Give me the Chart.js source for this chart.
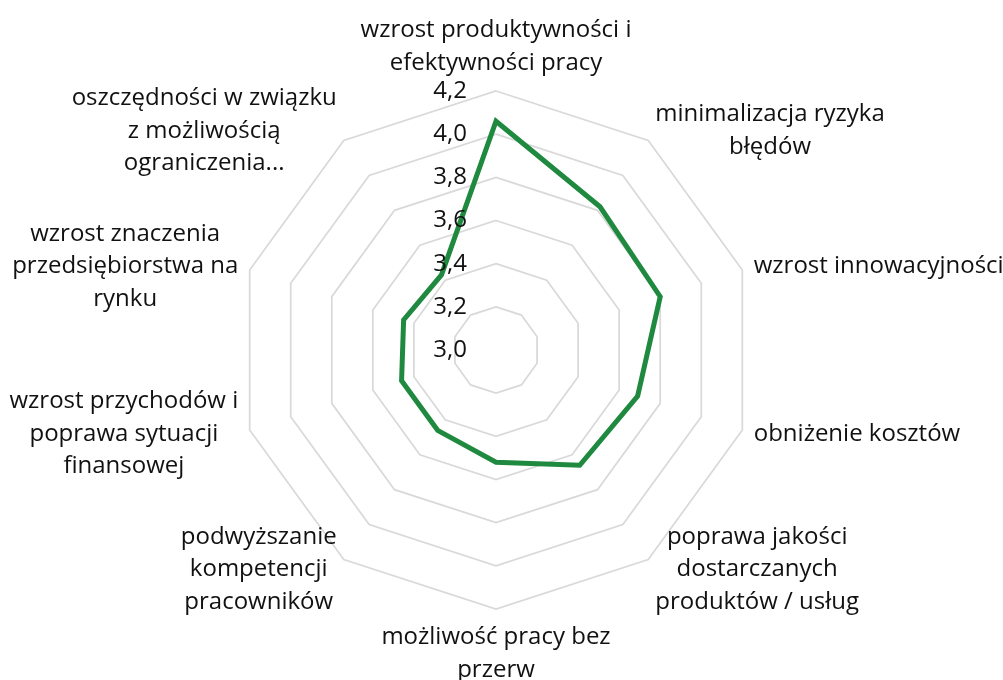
<!DOCTYPE html>
<html lang="pl">
<head>
<meta charset="utf-8">
<title>Korzyści</title>
<script src="https://cdn.jsdelivr.net/npm/chart.js@4.4.1/dist/chart.umd.min.js"></script>
<style>
  html, body { margin: 0; padding: 0; background: #ffffff; }
  #wrap { width: 1003px; height: 680px; }
</style>
</head>
<body>
<div id="wrap"><canvas id="chart" width="1003" height="680"></canvas></div>
<script>
// Categories (each entry holds the wrapped lines of one axis label)
const categories = [
  ['wzrost produktywności i', 'efektywności pracy'],
  ['minimalizacja ryzyka', 'błędów'],
  ['wzrost innowacyjności'],
  ['obniżenie kosztów'],
  ['poprawa jakości', 'dostarczanych', 'produktów / usług'],
  ['możliwość pracy bez', 'przerw'],
  ['podwyższanie', 'kompetencji', 'pracowników'],
  ['wzrost przychodów i', 'poprawa sytuacji', 'finansowej'],
  ['wzrost znaczenia', 'przedsiębiorstwa na', 'rynku'],
  ['oszczędności w związku', 'z możliwością', 'ograniczenia...']
];

// Mean ratings per category
const values = [4.06, 3.82, 3.80, 3.69, 3.66, 3.52, 3.46, 3.46, 3.45, 3.43];

// Radial axis range and step
const axisMin = 3.0;
const axisMax = 4.2;
const axisStep = 0.2;

const FONT = '24px "Open Sans", "DejaVu Sans", sans-serif';
const TEXT_COLOR = '#111111';
const LINE_HEIGHT = 32.5;
const LABEL_GAP = 12;

function formatTick(v) {
  return v.toFixed(1).replace('.', ',');
}

// Draws value labels beside the vertical axis and the wrapped category labels
const radarText = {
  id: 'radarText',
  afterDraw(chart) {
    const scale = chart.scales.r;
    const ctx = chart.ctx;
    ctx.save();
    ctx.font = FONT;
    ctx.fillStyle = TEXT_COLOR;
    ctx.textBaseline = 'middle';

    ctx.textAlign = 'right';
    scale.ticks.forEach(t => {
      const y = scale.yCenter - scale.getDistanceFromCenterForValue(t.value);
      ctx.fillText(formatTick(t.value), scale.xCenter - 29, y);
    });

    const n = categories.length;
    ctx.textAlign = 'center';
    categories.forEach((lines, i) => {
      const p = scale.getPointPosition(i, scale.drawingArea + LABEL_GAP);
      const deg = Math.round(i * 360 / n);
      const blockW = Math.max(...lines.map(l => ctx.measureText(l).width));
      const blockH = lines.length * LINE_HEIGHT;
      let cx, cy;
      if (deg === 0) {
        cx = p.x; cy = p.y - blockH / 2;
      } else if (deg === 180) {
        cx = p.x; cy = p.y + blockH / 2;
      } else if (deg < 180) {
        cx = p.x + blockW / 2; cy = p.y;
      } else {
        cx = p.x - blockW / 2; cy = p.y;
      }
      lines.forEach((line, k) => {
        const y = cy + (k - (lines.length - 1) / 2) * LINE_HEIGHT;
        ctx.fillText(line, cx, y);
      });
    });
    ctx.restore();
  }
};

new Chart(document.getElementById('chart'), {
  type: 'radar',
  data: {
    labels: categories,
    datasets: [{
      data: values,
      borderColor: '#1f8a3f',
      backgroundColor: 'rgba(0,0,0,0)',
      borderWidth: 5,
      borderJoinStyle: 'miter',
      fill: false,
      pointRadius: 0,
      pointHoverRadius: 0,
      tension: 0
    }]
  },
  options: {
    responsive: false,
    animation: false,
    layout: { padding: { top: 91, bottom: 71, left: 0, right: 11 } },
    plugins: {
      legend: { display: false },
      tooltip: { enabled: false }
    },
    scales: {
      r: {
        min: axisMin,
        max: axisMax,
        beginAtZero: false,
        ticks: { stepSize: axisStep, display: false },
        pointLabels: { display: false },
        angleLines: { display: false },
        grid: { color: '#d9d9d9', lineWidth: 1.75, circular: false }
      }
    }
  },
  plugins: [radarText]
});
</script>
</body>
</html>
